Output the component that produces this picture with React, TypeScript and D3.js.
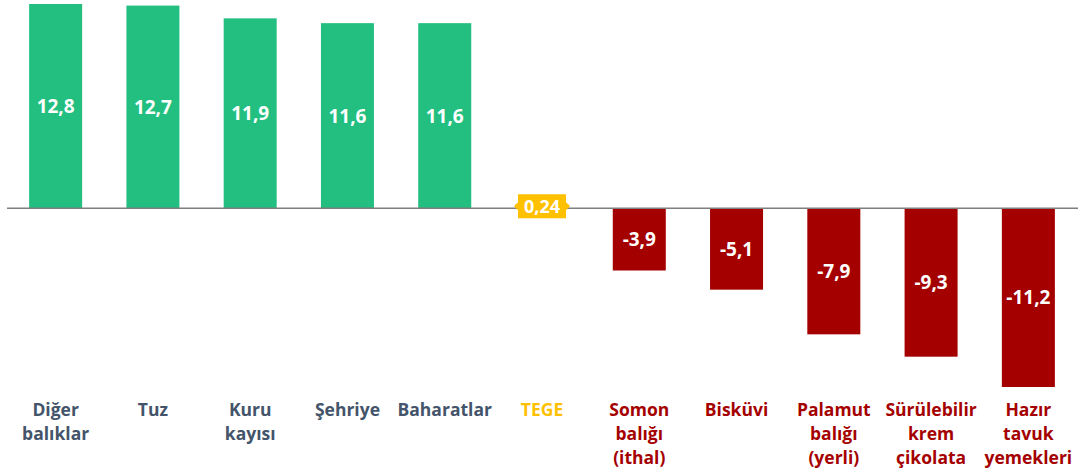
import React from 'react';
import * as d3 from 'd3';

const categories = ['Diğer balıklar', 'Tuz', 'Kuru kayısı', 'Şehriye', 'Baharatlar', 'TEGE', 'Somon balığı (ithal)', 'Bisküvi', 'Palamut balığı (yerli)', 'Sürülebilir krem çikolata', 'Hazır tavuk yemekleri'];
const labelLines = [['Diğer', 'balıklar'], ['Tuz'], ['Kuru', 'kayısı'], ['Şehriye'], ['Baharatlar'], ['TEGE'], ['Somon', 'balığı', '(ithal)'], ['Bisküvi'], ['Palamut', 'balığı', '(yerli)'], ['Sürülebilir', 'krem', 'çikolata'], ['Hazır', 'tavuk', 'yemekleri']];
const values = [12.8, 12.7, 11.9, 11.6, 11.6, 0.24, -3.9, -5.1, -7.9, -9.3, -11.2];

const W = 1078;
const H = 476;
const GREEN = '#23BF80';
const RED = '#A50000';
const GOLD = '#FFC000';
const NAVY = '#44546A';
const FONT = '"Open Sans", sans-serif';

const fmt = (v: number) => String(v).replace('.', ',');

export default function App() {
  const x = d3.scaleBand<string>().domain(categories).range([7, 1077]).paddingInner(0.455).paddingOuter(0.2275);
  const y = d3.scaleLinear().domain([-11.2, 12.8]).range([387, 4]);
  const zero = y(0);

  const colorOf = (i: number) => (categories[i] === 'TEGE' ? GOLD : values[i] >= 0 ? GREEN : RED);
  const textColorOf = (i: number) => (categories[i] === 'TEGE' ? GOLD : values[i] >= 0 ? NAVY : RED);

  return (
    <div style={{ position: 'fixed', left: 0, top: 0 }}>
      <svg width={W} height={H} style={{ display: 'block', background: '#fff' }}>
        {categories.map((c, i) => {
          const v = values[i];
          const bx = x(c)!;
          const top = Math.min(y(v), zero);
          const h = Math.abs(y(v) - zero);
          return <rect key={c} x={bx} y={top} width={x.bandwidth()} height={h} fill={colorOf(i)} />;
        })}
        <line x1={7} x2={W} y1={zero} y2={zero} stroke="#7f7f7f" strokeWidth={1.3} />
        {categories.map((c, i) => {
          const v = values[i];
          const cx = x(c)! + x.bandwidth() / 2;
          if (c === 'TEGE') {
            const bw = 48, bh = 24, cy = zero - 2;
            const l = cx - bw / 2, r = cx + bw / 2, t = cy - bh / 2, b = cy + bh / 2;
            const p = `M${l},${t} H${r} V${cy - 4} L${r + 4},${cy} L${r},${cy + 4} V${b} H${l} V${cy + 4} L${l - 4},${cy} L${l},${cy - 4} Z`;
            return (
              <g key={c}>
                <path d={p} fill={GOLD} />
                <text x={cx} y={cy} dy="0.36em" textAnchor="middle" fill="#fff" fontFamily={FONT} fontWeight={700} fontSize={18}>{fmt(v)}</text>
              </g>
            );
          }
          const mid = (y(v) + zero) / 2;
          return (
            <text key={c} x={cx} y={mid} dy="0.36em" textAnchor="middle" fill="#fff" fontFamily={FONT} fontWeight={700} fontSize={19}>{fmt(v)}</text>
          );
        })}
        {categories.map((c, i) => {
          const cx = x(c)! + x.bandwidth() / 2;
          return (
            <text key={c} textAnchor="middle" fill={textColorOf(i)} fontFamily={FONT} fontWeight={700} fontSize={17.5}>
              {labelLines[i].map((ln, j) => (
                <tspan key={j} x={cx} y={416 + j * 24}>{ln}</tspan>
              ))}
            </text>
          );
        })}
      </svg>
    </div>
  );
}
